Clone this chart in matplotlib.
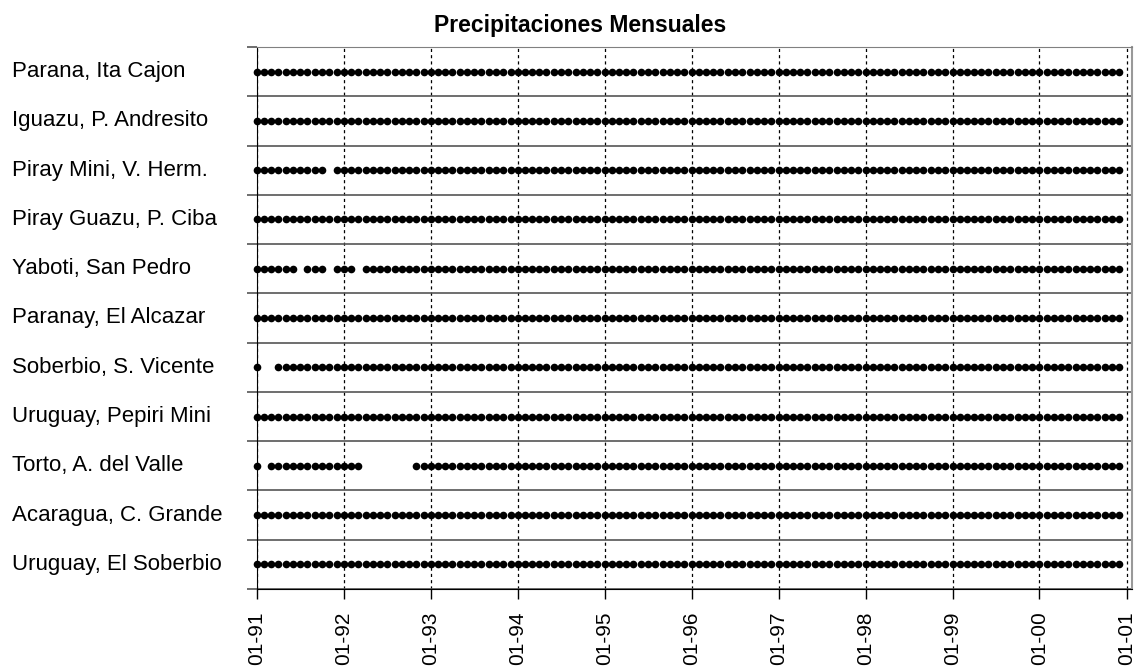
import numpy as np
import pandas as pd
import matplotlib
matplotlib.use("Agg")
import matplotlib.pyplot as plt
import matplotlib.dates as mdates
import matplotlib.transforms as mtransforms

plt.rcParams['font.family'] = ['Liberation Sans', 'DejaVu Sans']

#---- Data -------------------------------------------------------------------#

stations = ["Parana, Ita Cajon", "Iguazu, P. Andresito", "Piray Mini, V. Herm.",
            "Piray Guazu, P. Ciba", "Yaboti, San Pedro", "Paranay, El Alcazar",
            "Soberbio, S. Vicente", "Uruguay, Pepiri Mini", "Torto, A. del Valle",
            "Acaragua, C. Grande", "Uruguay, El Soberbio"]

months = pd.date_range("1991-01-01", "2000-12-01", freq="MS")   #monthly records

#months with no record, per station
missing = {
    "Piray Mini, V. Herm.": ["1991-11"],
    "Yaboti, San Pedro": ["1991-07", "1991-11", "1992-03"],
    "Soberbio, S. Vicente": ["1991-02", "1991-03"],
    "Torto, A. del Valle": ["1991-02", "1992-04", "1992-05", "1992-06",
                            "1992-07", "1992-08", "1992-09", "1992-10"],
}

year_ticks = pd.date_range("1991-01-01", "2001-01-01", freq="YS")

#---- Plotting ---------------------------------------------------------------#

fig = plt.figure(figsize=(11.4, 6.69), dpi=100)
ax = fig.add_axes([257/1140, 1-589/669, (1132-257)/1140, (589-47)/669])

n = len(stations)
for i, name in enumerate(stations):
    gaps = pd.to_datetime(missing.get(name, []))
    have = months[~months.isin(gaps)]
    ypos = n - 1 - i
    ax.plot(have, np.full(len(have), ypos), 'o', color='black',
            markersize=5.5, markeredgewidth=0, zorder=3, clip_on=False)

ax.set_xlim(pd.Timestamp("1991-01-01"), pd.Timestamp("2001-01-24"))
ax.set_ylim(-0.5, n - 0.5)

ax.set_xticks(year_ticks)
ax.xaxis.set_major_formatter(mdates.DateFormatter('%m-%y'))
plt.setp(ax.get_xticklabels(), rotation=90, fontsize=15)
ax.tick_params(axis='x', direction='out', length=7, width=1, pad=9, color='black')
ax.grid(axis='x', color='black', linestyle=(0, (2.5, 2.5)), linewidth=0.9)

#row separators as y ticks + grid
ax.set_yticks(np.arange(-0.5, n, 1.0))
ax.set_yticklabels([])
ax.tick_params(axis='y', direction='out', length=7, width=1.2, color='#555555')
ax.grid(axis='y', color='#555555', linestyle='-', linewidth=1.2)
ax.set_axisbelow(True)

ax.spines['left'].set_color('black')
ax.spines['bottom'].set_color('black')
ax.spines['top'].set_color('#808080')
ax.spines['right'].set_color('#999999')
ax.spines['right'].set_linewidth(1.5)

#station names
trans = mtransforms.blended_transform_factory(fig.transFigure, ax.transData)
for i, name in enumerate(stations):
    ax.text(12/1140, n - 1 - i, name, transform=trans, ha='left', va='center',
            fontsize=16)

fig.text(580/1140, 1-32/669, "Precipitaciones Mensuales", ha='center',
         va='baseline', fontsize=16.5, fontweight='bold')

plt.savefig('out.png', dpi=100)
